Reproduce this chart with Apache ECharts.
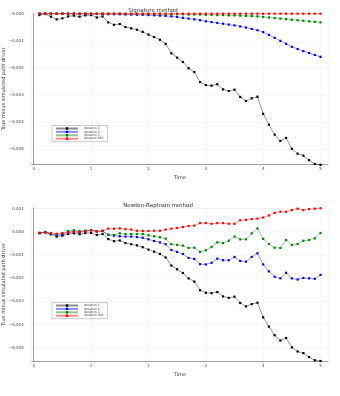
<!DOCTYPE html>
<html>
<head>
  <meta charset="utf-8" />
  <title>Signature vs Newton-Raphson</title>
  <script src="https://cdn.jsdelivr.net/npm/echarts@6/dist/echarts.min.js"></script>
  <style>
    html, body { margin: 0; padding: 0; background: #fff; }
  </style>
</head>
<body>
<div id="main" style="width: 340px;height:396px;"></div>
<script type="text/javascript">
  // time grid
  var times = [0.1,0.2,0.3,0.4,0.5,0.6,0.7,0.8,0.9,1.0,
               1.1,1.2,1.3,1.4,1.5,1.6,1.7,1.8,1.9,2.0,
               2.1,2.2,2.3,2.4,2.5,2.6,2.7,2.8,2.9,3.0,
               3.1,3.2,3.3,3.4,3.5,3.6,3.7,3.8,3.9,4.0,
               4.1,4.2,4.3,4.4,4.5,4.6,4.7,4.8,4.9,5.0];
  var names = ['Iteration 1', 'Iteration 2', 'Iteration 3', 'Iteration 500'];
  var colors = ['#000000', '#0000ff', '#008000', '#ff0000'];

  // iteration 1 is the same for both methods
  var iter1 = [-0.00005,-0.00001,-0.00011,-0.00021,-0.00017,-0.00010,-0.00007,-0.00011,-0.00006,-0.00005,
               -0.00014,-0.00010,-0.00032,-0.00041,-0.00038,-0.00049,-0.00054,-0.00059,-0.00067,-0.00077,
               -0.00086,-0.00096,-0.00111,-0.00146,-0.00162,-0.00178,-0.00201,-0.00215,-0.00252,-0.00263,
               -0.00265,-0.00260,-0.00279,-0.00285,-0.00280,-0.00307,-0.00322,-0.00312,-0.00306,-0.00369,
               -0.00409,-0.00446,-0.00469,-0.00458,-0.00498,-0.00516,-0.00523,-0.00540,-0.00554,-0.00557];

  // signature method
  var sigIter2 = [0,0,0,0,0,0,0,-0.00001,-0.00001,-0.00001,
                  -0.00001,-0.00001,-0.00002,-0.00002,-0.00002,-0.00003,-0.00003,-0.00004,-0.00004,-0.00005,
                  -0.00006,-0.00007,-0.00008,-0.00010,-0.00012,-0.00015,-0.00018,-0.00021,-0.00024,-0.00028,
                  -0.00031,-0.00034,-0.00037,-0.00040,-0.00043,-0.00047,-0.00051,-0.00056,-0.00061,-0.00068,
                  -0.00078,-0.00089,-0.00100,-0.00111,-0.00122,-0.00130,-0.00138,-0.00145,-0.00152,-0.00159];
  var sigIter3 = [0,0,0,0,0,0,0,0,0,0,
                  0,0,0,0,0,-0.00001,-0.00001,-0.00001,-0.00001,-0.00001,
                  -0.00001,-0.00001,-0.00002,-0.00002,-0.00002,-0.00002,-0.00003,-0.00003,-0.00003,-0.00004,
                  -0.00004,-0.00005,-0.00005,-0.00006,-0.00006,-0.00007,-0.00008,-0.00009,-0.00010,-0.00012,
                  -0.00014,-0.00016,-0.00018,-0.00020,-0.00022,-0.00024,-0.00026,-0.00028,-0.00030,-0.00032];
  var sigIter500 = [0,0,0,0,0,0,0,0,0,0,
                    0,0,0,0,0,0,0,0,0,0,
                    0,0,0,0,0,0,0,0,0,0,
                    0,0,0,0,0,0,0,0,0,0,
                    0,0,0,0,0,0,0,0,0,0];

  // newton-raphson method
  var nrIter2 = [-0.00006,-0.00003,-0.00011,-0.00014,-0.00014,-0.00003,0,-0.00003,0.00003,0.00007,
                 0.00001,0.00003,-0.00014,-0.00017,-0.00020,-0.00021,-0.00021,-0.00023,-0.00026,-0.00033,
                 -0.00040,-0.00046,-0.00054,-0.00079,-0.00087,-0.00096,-0.00113,-0.00117,-0.00140,-0.00141,
                 -0.00134,-0.00116,-0.00123,-0.00123,-0.00109,-0.00126,-0.00129,-0.00109,-0.00093,-0.00141,
                 -0.00171,-0.00194,-0.00201,-0.00177,-0.00201,-0.00206,-0.00199,-0.00201,-0.00203,-0.00186];
  var nrIter3 = [-0.00006,-0.00003,-0.00009,-0.00011,-0.00009,0.00003,0.00006,0.00003,0.00004,0.00007,
                 0.00001,0.00003,-0.00013,-0.00014,-0.00007,-0.00010,-0.00010,-0.00010,-0.00010,-0.00016,
                 -0.00020,-0.00024,-0.00030,-0.00054,-0.00057,-0.00060,-0.00070,-0.00069,-0.00087,-0.00080,
                 -0.00066,-0.00046,-0.00049,-0.00039,-0.00021,-0.00033,-0.00033,-0.00007,0.00014,-0.00031,
                 -0.00053,-0.00069,-0.00070,-0.00036,-0.00057,-0.00053,-0.00039,-0.00036,-0.00029,-0.00006];
  var nrIter500 = [-0.00006,-0.00003,-0.00006,-0.00009,-0.00006,-0.00003,-0.00001,-0.00001,0.00001,0.00006,
                   0.00001,0.00004,0.00013,0.00013,0.00014,0.00011,0.00009,0.00004,0.00003,0.00003,
                   0.00004,0.00004,0.00009,0.00013,0.00016,0.00020,0.00024,0.00026,0.00037,0.00037,
                   0.00034,0.00037,0.00037,0.00034,0.00034,0.00049,0.00051,0.00054,0.00056,0.00061,
                   0.00070,0.00081,0.00086,0.00086,0.00093,0.00099,0.00093,0.00097,0.00099,0.00101];

  var xTicks = [0, 1, 2, 3, 4, 5];

  function pairs(ys) {
    return times.map(function (t, i) { return [t, ys[i]]; });
  }
  function fmtY(v) {
    var s = Math.abs(v).toFixed(3);
    return (v < -1e-9 ? '\u2212' : '') + s;
  }

  var textCol = '#444';
  function xAxis(idx) {
    return {
      type: 'value', gridIndex: idx, min: -0.035, max: 5.13,
      name: 'Time', nameLocation: 'middle', nameGap: 11, nameMoveOverlap: false,
      nameTextStyle: { fontSize: 5, color: textCol, fontFamily: 'DejaVu Sans' },
      axisLine: { show: true, onZero: false, lineStyle: { color: '#888', width: 0.8 } },
      axisTick: { show: false },
      axisLabel: {
        fontSize: 4, color: textCol, margin: 3, fontFamily: 'DejaVu Sans',
        customValues: xTicks, formatter: function (v) { return String(v); }
      },
      splitLine: { show: true, lineStyle: { color: '#eeeeee', width: 0.5 } }
    };
  }
  function yAxis(idx, min, max) {
    return {
      type: 'value', gridIndex: idx, min: min, max: max, splitNumber: 6,
      name: 'True minus simulated path driver', nameLocation: 'middle', nameGap: 25,
      nameMoveOverlap: false, nameRotate: 90,
      nameTextStyle: { fontSize: 5, color: textCol, fontFamily: 'DejaVu Sans' },
      axisLine: { show: true, lineStyle: { color: '#888', width: 0.8 } },
      axisTick: { show: false },
      axisLabel: {
        fontSize: 4, color: textCol, margin: 8, fontFamily: 'DejaVu Sans',
        showMinLabel: false, showMaxLabel: max === 0, formatter: fmtY
      },
      splitLine: { show: true, lineStyle: { color: '#eeeeee', width: 0.5 } }
    };
  }
  function legend(top) {
    return {
      left: 52, top: top, orient: 'vertical',
      itemWidth: 22, itemHeight: 3, itemGap: 0.4,
      padding: [1.5, 4, 1.5, 3],
      borderColor: '#999', borderWidth: 0.5,
      textStyle: { fontSize: 3, color: textCol, fontFamily: 'DejaVu Sans', padding: [0, 0, 0, 1] },
      data: names
    };
  }
  function line(name, k, idx, ys) {
    return {
      name: name, type: 'line', xAxisIndex: idx, yAxisIndex: idx,
      data: pairs(ys), symbol: 'rect', symbolSize: 2.2, clip: false,
      color: colors[k],
      itemStyle: { color: colors[k] },
      lineStyle: { color: colors[k], width: 0.9, opacity: 0.45 },
      emphasis: { disabled: true },
      animation: false
    };
  }

  var chart = echarts.init(document.getElementById('main'));
  var option = {
    backgroundColor: '#fff',
    animation: false,
    title: [
      { text: 'Signature method', left: 148, top: 3, textAlign: 'center',
        textStyle: { fontSize: 5.5, fontWeight: 'normal', color: '#333', fontFamily: 'DejaVu Sans' } },
      { text: 'Newton-Raphson method', left: 153, top: 198, textAlign: 'center',
        textStyle: { fontSize: 5.5, fontWeight: 'normal', color: '#333', fontFamily: 'DejaVu Sans' } }
    ],
    grid: [
      { left: 31.7, top: 13.7, width: 296.3, height: 150.3, containLabel: false, outerBoundsMode: 'none' },
      { left: 31.7, top: 208, width: 296.3, height: 153, containLabel: false, outerBoundsMode: 'none' }
    ],
    legend: [legend(125.5), legend(302.5)],
    xAxis: [xAxis(0), xAxis(1)],
    yAxis: [yAxis(0, -0.00554, 0), yAxis(1, -0.00557, 0.00102)],
    series: [
      line(names[0], 0, 0, iter1),
      line(names[1], 1, 0, sigIter2),
      line(names[2], 2, 0, sigIter3),
      line(names[3], 3, 0, sigIter500),
      line(names[0], 0, 1, iter1),
      line(names[1], 1, 1, nrIter2),
      line(names[2], 2, 1, nrIter3),
      line(names[3], 3, 1, nrIter500)
    ]
  };
  chart.setOption(option);
</script>
</body>
</html>
